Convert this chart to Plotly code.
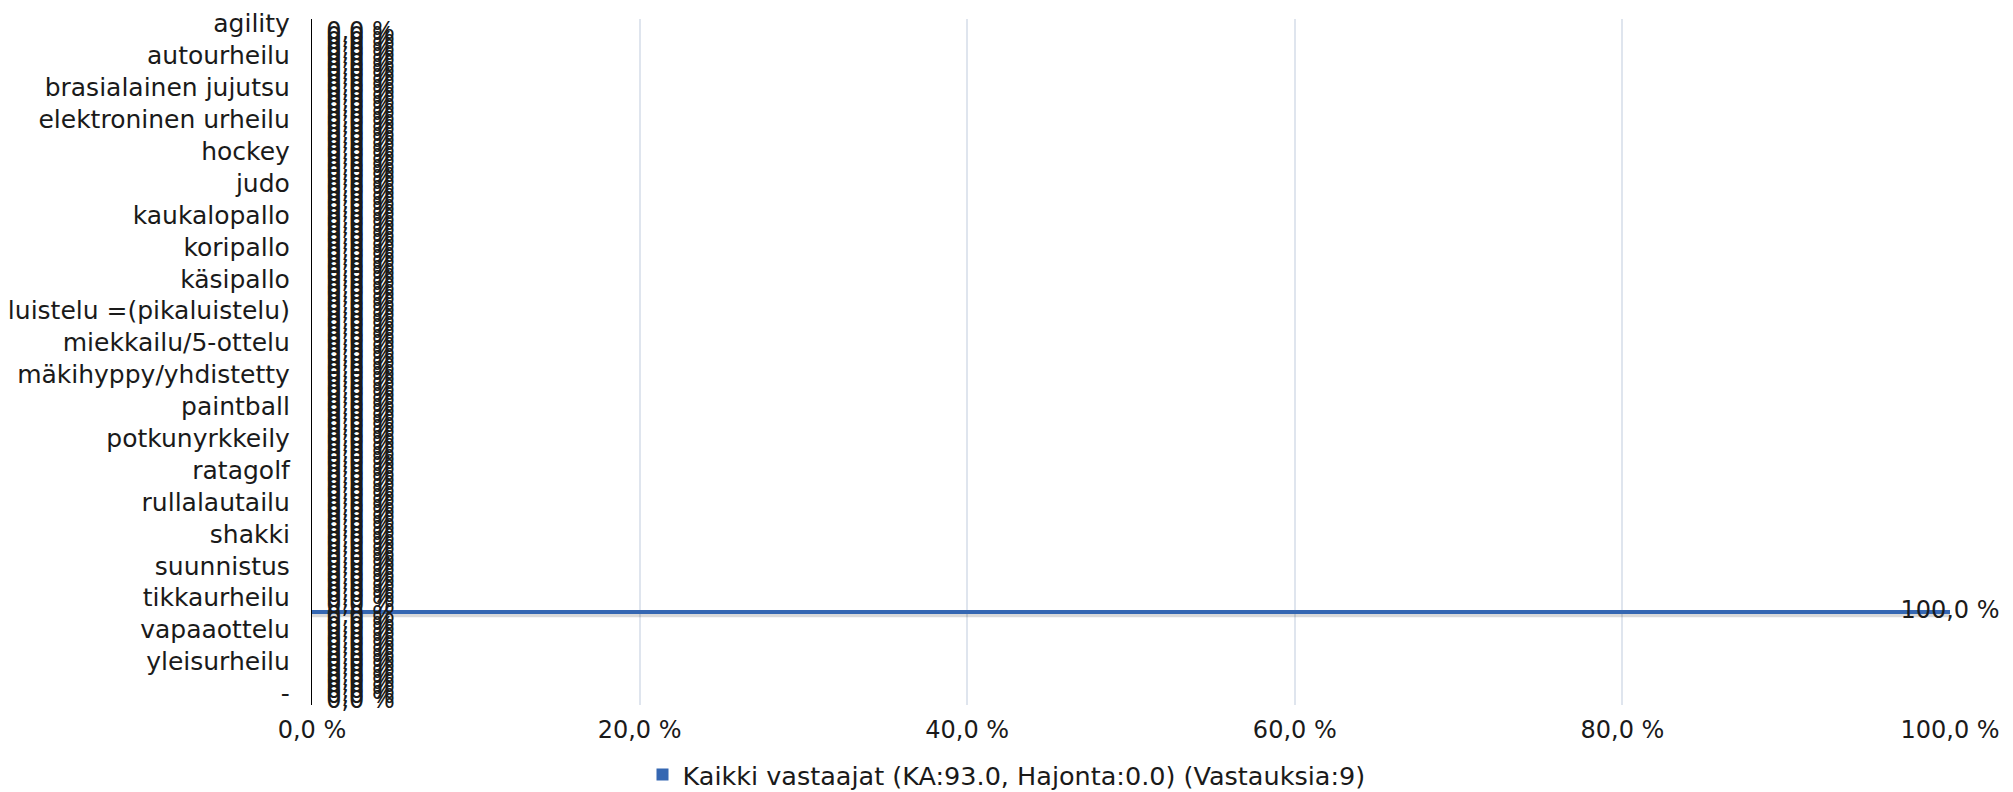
import plotly.graph_objects as go

categories = [
    "agility", "aikido", "amerikkalainen jalkapallo", "ammunta", "ampumahiihto", "asahi",
    "autourheilu", "badminton", "baseball", "biljardi", "boulderointi", "bowling",
    "brasialainen jujutsu", "cheerleading", "crossfit", "curling", "darts", "disc golf",
    "elektroninen urheilu", "esteratsastus", "frisbeegolf", "futsal", "golf", "hiihto",
    "hockey", "ilmailu", "jalkapallo", "jooga", "jousiammunta", "ju-jutsu",
    "judo", "juoksu", "jääkiekko", "kalastus", "kamppailulajit", "karate",
    "kaukalopallo", "kehonrakennus", "keilailu", "kickboxing", "kiipeily", "kilpatanssi",
    "koripallo", "kreikkalais-roomalainen paini", "kuntonyrkkeily", "kuntosali", "kuulantyöntö", "kyykkä",
    "käsipallo", "lacrosse", "laskettelu", "lentopallo", "liitokiekko", "longboarding",
    "luistelu =(pikaluistelu)", "lumilautailu", "maastohiihto", "maastopyöräily", "melonta", "metsästys",
    "miekkailu/5-ottelu", "moottoripyöräily", "moottoriurheilu", "muodostelmaluistelu", "muu", "mäkiautoilu",
    "mäkihyppy/yhdistetty", "mölkky", "nyrkkeily", "padel", "paini", "painonnosto",
    "paintball", "parkour", "pesäpallo", "pikaluistelu", "pilates", "pingis",
    "potkunyrkkeily", "purjehdus", "purjelento", "pyöräily", "pöytätennis", "rantalentopallo",
    "ratagolf", "ratsastus", "ravit", "ringette", "rugby", "rullahiihto",
    "rullalautailu", "rullaluistelu", "salibandy", "sauvakävely", "seinäkiipeily", "sepak takraw",
    "shakki", "skeittaus", "snooker", "squash", "sulkapallo", "surffaus",
    "suunnistus", "taekwondo", "tanssi", "tennis", "thainyrkkeily", "tikanheitto",
    "tikkaurheilu", "triathlon", "uinti", "ulkoilu", "urheiluammunta", "vaellus",
    "vapaaottelu", "vapaasukellus", "vesihiihto", "vesipallo", "voimanosto", "voimistelu",
    "yleisurheilu", "ylämäkijuoksu", "zumba", "muu laji", "useita lajeja", "en harrasta",
    "-",
]

values = [
    0, 0, 0, 0, 0, 0, 0, 0, 0, 0,
    0, 0, 0, 0, 0, 0, 0, 0, 0, 0,
    0, 0, 0, 0, 0, 0, 0, 0, 0, 0,
    0, 0, 0, 0, 0, 0, 0, 0, 0, 0,
    0, 0, 0, 0, 0, 0, 0, 0, 0, 0,
    0, 0, 0, 0, 0, 0, 0, 0, 0, 0,
    0, 0, 0, 0, 0, 0, 0, 0, 0, 0,
    0, 0, 0, 0, 0, 0, 0, 0, 0, 0,
    0, 0, 0, 0, 0, 0, 0, 0, 0, 0,
    0, 0, 0, 0, 0, 0, 0, 0, 0, 0,
    0, 0, 0, 0, 0, 0, 0, 0, 0, 100,
    0, 0, 0, 0, 0, 0, 0, 0, 0, 0,
    0, 0, 0, 0, 0, 0, 0,
]

shown_labels = [
    "agility", "autourheilu", "brasialainen jujutsu", "elektroninen urheilu", "hockey",
    "judo", "kaukalopallo", "koripallo", "käsipallo", "luistelu =(pikaluistelu)",
    "miekkailu/5-ottelu", "mäkihyppy/yhdistetty", "paintball", "potkunyrkkeily",
    "ratagolf", "rullalautailu", "shakki", "suunnistus", "tikkaurheilu",
    "vapaaottelu", "yleisurheilu", "-",
]

x_tick_vals = [0, 20, 40, 60, 80, 100]
x_tick_text = ["0,0 %", "20,0 %", "40,0 %", "60,0 %", "80,0 %", "100,0 %"]

series_name = "Kaikki vastaajat (KA:93.0, Hajonta:0.0) (Vastauksia:9)"

FONT = "DejaVu Sans"
TXT = "#1a1a1a"
BLUE = "#3567b2"

labels = [f"{v:.1f} %".replace(".", ",") for v in values]
label_pos = ["middle center" if v >= 100 else "middle right" for v in values]

fig = go.Figure()

# soft shadow under bars
fig.add_trace(go.Bar(
    x=values, y=categories, orientation="h",
    marker=dict(color="rgba(0,0,0,0.15)", line=dict(width=0)),
    width=0.9, offset=0.1, showlegend=False, hoverinfo="skip",
))

fig.add_trace(go.Bar(
    x=values, y=categories, orientation="h", name=series_name,
    marker=dict(color=BLUE, line=dict(width=0)),
    width=0.75, offset=-0.375,
))

# value labels (invisible markers give the label its offset from the bar end)
fig.add_trace(go.Scatter(
    x=values, y=categories, mode="markers+text", text=labels,
    marker=dict(size=21, color="rgba(0,0,0,0)"),
    textposition=label_pos, textfont=dict(family=FONT, size=24, color=TXT),
    showlegend=False, cliponaxis=False, hoverinfo="skip",
))

fig.update_layout(
    width=2013, height=792, autosize=False,
    margin=dict(l=312, r=63, t=19, b=87),
    paper_bgcolor="white", plot_bgcolor="white",
    barmode="overlay",
    font=dict(family=FONT, size=24, color=TXT),
    xaxis=dict(
        range=[0, 100], tickmode="array", tickvals=x_tick_vals, ticktext=x_tick_text,
        showgrid=True, gridcolor="#dfe5ee", gridwidth=1.5, zeroline=False,
        showline=False, ticks="", ticklabelstandoff=8, automargin=False,
        tickfont=dict(family=FONT, size=24, color=TXT),
    ),
    yaxis=dict(
        type="category", categoryorder="array", categoryarray=categories,
        range=[len(categories) - 0.5, -2.57],
        tickmode="array", tickvals=shown_labels,
        showline=True, linecolor="#000000", linewidth=1.2,
        showgrid=False, zeroline=False, ticks="", ticklabelstandoff=16,
        ticklabelshift=9, automargin=False,
        tickfont=dict(family=FONT, size=25, color=TXT),
    ),
    legend=dict(
        orientation="h", xref="container", yref="container",
        x=0.5, xanchor="center", y=1 - 775 / 792, yanchor="middle",
        font=dict(family=FONT, size=25.5, color=TXT),
        itemwidth=30,
    ),
)

fig.write_html(
    "out.html",
    config={"displayModeBar": False},
    post_script="document.body.style.margin='0';",
)
